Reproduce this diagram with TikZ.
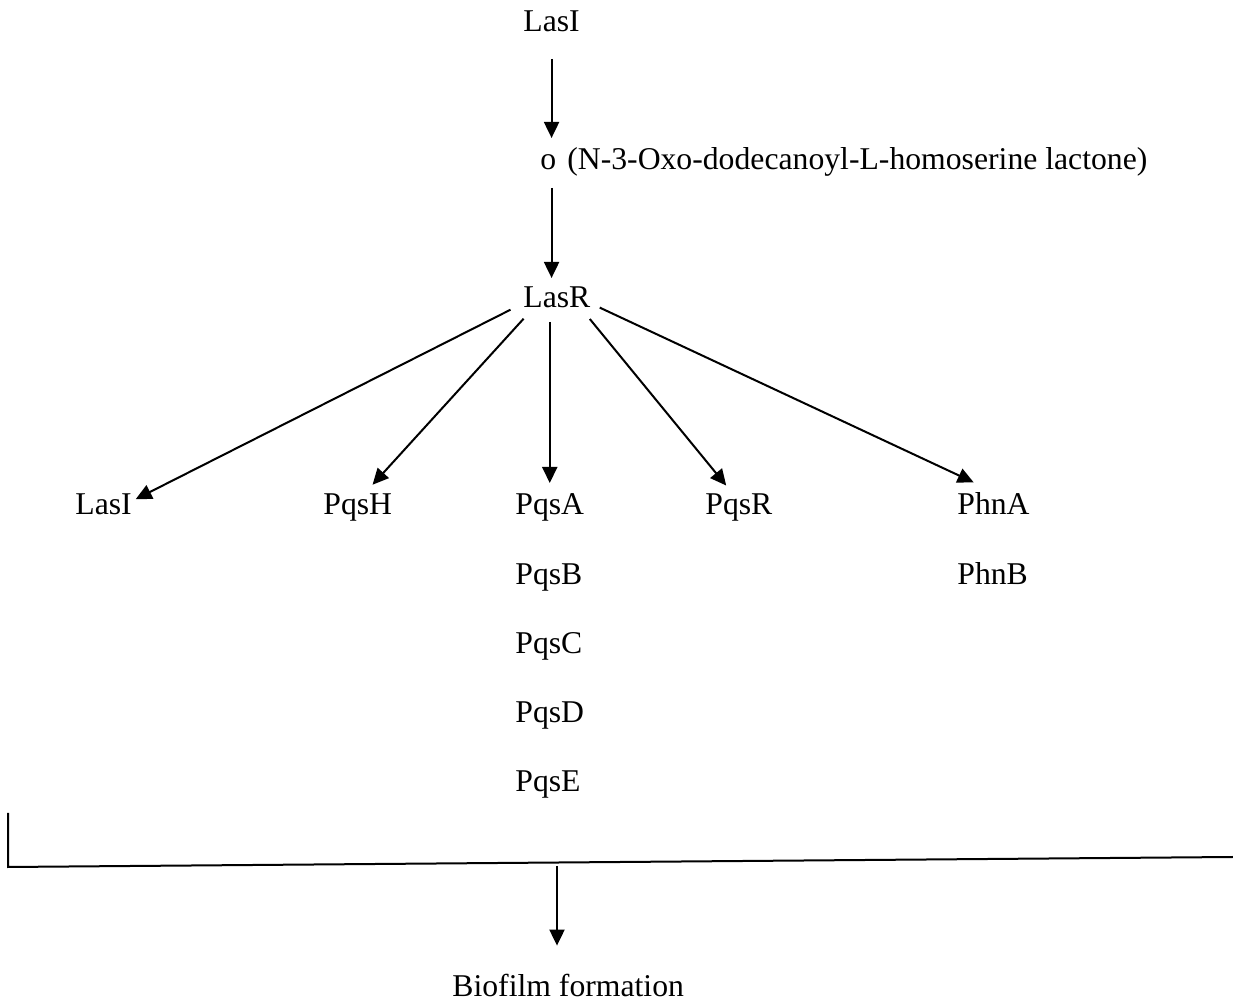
\documentclass[tikz,border=0pt]{standalone}
\usepackage{fontspec}
\setmainfont{Liberation Serif}
\usetikzlibrary{arrows.meta}

\begin{document}
\begin{tikzpicture}[
                x=0.5pt, y=-0.5pt,
                gene/.style={inner sep=0pt, anchor=base west,
                    font=\fontsize{15.85}{19}\selectfont,
                    text height=0.68em, text depth=0.22em},
                arr/.style={line width=1pt, -{Triangle[length=8pt,width=7.5pt]}},
                bar/.style={line width=1pt}
            ]
                \useasboundingbox (0,0) rectangle (1233,1004);

                % signal chain
                \node[gene] (lasI) at (523,32) {LasI};
                \node[gene] (ahl) at (540,170) {o\hspace{0.35em}(N-3-Oxo-dodecanoyl-L-homoserine lactone)};
                \node[gene] (lasR) at (523,308) {LasR};

                % targets
                \node[gene] (lasIb) at (75,515) {LasI};
                \node[gene] (pqsH) at (323,515) {PqsH};
                \node[gene] (pqsA) at (515,515) {PqsA};
                \node[gene] (pqsB) at (515,584.25) {PqsB};
                \node[gene] (pqsC) at (515,653.5) {PqsC};
                \node[gene] (pqsD) at (515,722.75) {PqsD};
                \node[gene] (pqsE) at (515,792) {PqsE};
                \node[gene] (pqsR) at (705,515) {PqsR};
                \node[gene] (phnA) at (957,515) {PhnA};
                \node[gene] (phnB) at (957,585) {PhnB};

                \node[gene] (bio) at (452,997) {Biofilm formation};

                \draw[arr, shorten <=11pt, shorten >=9pt] (lasI.south) -- (lasI.south |- ahl.north);
                \draw[arr, shorten <=6.5pt, shorten >=8pt] (lasI.south |- ahl.south) -- (lasI.south |- lasR.north);

                \draw[arr, shorten <=7pt, shorten >=2pt] (lasR.west) -- (lasIb.north east);
                \draw[arr, shorten <=4pt, shorten >=11pt] ([xshift=3pt]lasR.south west) -- (pqsH.north);
                \draw[arr, shorten <=4.5pt, shorten >=9pt] (pqsA.north |- lasR.south) -- (pqsA.north);
                \draw[arr, shorten <=4pt, shorten >=10pt] ([xshift=-3pt]lasR.south east) -- (pqsR.north);
                \draw[arr, shorten <=5pt, shorten >=22pt] (lasR.east) -- ([xshift=10pt]phnA.north);

                % bracket
                \coordinate (brTop) at (8,813);
                \coordinate (brCorner) at (8,867);
                \coordinate (brEnd) at (1233,857);
                \coordinate (brk) at (557,866);
                \draw[bar] (brTop) -- (brCorner) -- (brEnd);
                \draw[arr, shorten >=18.7pt] (brk) -- (brk |- bio.north);
            \end{tikzpicture}
\end{document}
